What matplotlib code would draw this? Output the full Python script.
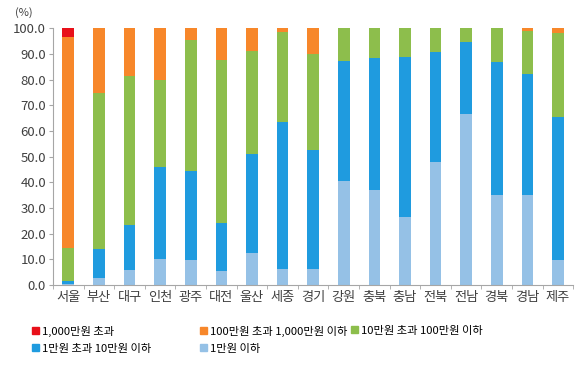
import numpy as np
import matplotlib.pyplot as plt
from matplotlib.patches import Patch
from matplotlib.ticker import FormatStrFormatter, MultipleLocator, FixedLocator

plt.rcParams['font.family'] = ['Noto Sans CJK KR', 'DejaVu Sans']

# Regions
regions = ['서울', '부산', '대구', '인천', '광주', '대전', '울산', '세종', '경기',
           '강원', '충북', '충남', '전북', '전남', '경북', '경남', '제주']

# Share of each bracket (%), bottom to top
under_1 = [0.3, 2.8, 5.8, 10.0, 9.6, 5.4, 12.3, 6.1, 6.1,
           40.5, 36.8, 26.5, 47.9, 66.5, 35.1, 34.9, 9.6]
from_1_to_10 = [1.2, 11.3, 17.4, 36.0, 34.9, 18.6, 38.9, 57.3, 46.3,
                46.9, 51.4, 62.2, 42.8, 28.2, 51.9, 47.3, 55.8]
from_10_to_100 = [12.8, 60.7, 58.1, 33.8, 50.8, 63.8, 39.9, 35.3, 37.7,
                  12.6, 11.8, 11.3, 9.3, 5.3, 13.0, 16.6, 32.8]
from_100_to_1000 = [82.1, 25.2, 18.7, 20.2, 4.7, 12.2, 8.9, 1.3, 9.9,
                    0.0, 0.0, 0.0, 0.0, 0.0, 0.0, 1.2, 1.8]
over_1000 = [3.6, 0, 0, 0, 0, 0, 0, 0, 0, 0, 0, 0, 0, 0, 0, 0, 0]

labels = ['1,000만원 초과', '100만원 초과 1,000만원 이하', '10만원 초과 100만원 이하',
          '1만원 초과 10만원 이하', '1만원 이하']
colors = ['#E8101A', '#F7872A', '#8DBE4C', '#1F9BDF', '#95C1E6']

series = [under_1, from_1_to_10, from_10_to_100, from_100_to_1000, over_1000]
series_colors = colors[::-1]

fig = plt.figure(figsize=(5.8, 3.66), dpi=100)
ax = fig.add_axes([0.0914, 0.2213, 0.897, 0.7017])

x = np.arange(len(regions))
bottom = np.zeros(len(regions))
for vals, c in zip(series, series_colors):
    ax.bar(x, vals, width=0.38, bottom=bottom, color=c, linewidth=0)
    bottom += np.array(vals)

ax.set_xlim(-0.5, len(regions) - 0.5)
ax.set_ylim(0, 100)
ax.yaxis.set_major_locator(MultipleLocator(10))
ax.yaxis.set_major_formatter(FormatStrFormatter('%.1f'))
ax.set_xticks(x)
ax.set_xticklabels(regions)
ax.xaxis.set_minor_locator(FixedLocator(np.arange(-0.5, len(regions), 1)))

for s in ['top', 'right']:
    ax.spines[s].set_visible(False)
for s in ['left', 'bottom']:
    ax.spines[s].set_color('#A6A6A6')
    ax.spines[s].set_linewidth(0.8)

ax.tick_params(axis='y', length=3, color='#A6A6A6', labelsize=9.5, labelcolor='#404040', pad=2)
ax.tick_params(axis='x', which='major', length=0, labelsize=9.5, labelcolor='#404040', pad=4)
ax.tick_params(axis='x', which='minor', length=3, color='#A6A6A6')

fig.text(0.026, 0.965, '(%)', fontsize=8, color='#404040', va='center')

handles = [Patch(color=c) for c in colors]
leg_kw = dict(loc='upper left', frameon=False, fontsize=8.1, handlelength=0.6,
              handleheight=0.6, handletextpad=0.3, labelspacing=0.6,
              borderaxespad=0, borderpad=0)
groups = [([0, 3], 0.055), ([1, 4], 0.345), ([2], 0.605)]
for idx, xpos in groups:
    fig.legend([handles[i] for i in idx], [labels[i] for i in idx],
               bbox_to_anchor=(xpos, 0.11), **leg_kw)

fig.savefig('out.png', dpi=100)
